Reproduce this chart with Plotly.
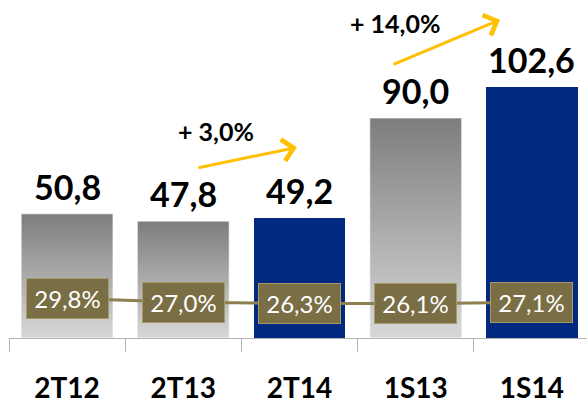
import plotly.graph_objects as go

categories = ["2T12", "2T13", "2T14", "1S13", "1S14"]
values = [50.8, 47.8, 49.2, 90.0, 102.6]
margins = [29.8, 27.0, 26.3, 26.1, 27.1]
growth_labels = ["+ 3,0%", "+ 14,0%"]

BLUE = "#00297f"
GRAY = "#a6a6a6"
OLIVE_LINE = "#8c8050"
BOX_BG = "#7a6e44"
BOX_BORDER = "#a59a68"
FONT = "Lato"
BAR_W = 0.79

def fmt(v, suffix=""):
    return f"{v:.1f}".replace(".", ",") + suffix

x = list(range(len(categories)))
highlight = [c.endswith("14") for c in categories]

fig = go.Figure()

fig.add_trace(go.Bar(
    x=x, y=values, width=BAR_W,
    marker=dict(color=[BLUE if h else GRAY for h in highlight], line=dict(width=0)),
    showlegend=False, hoverinfo="skip",
))

# gradient overlay for the gray (prior period) bars
for i, (v, h) in enumerate(zip(values, highlight)):
    if h:
        continue
    xl, xr = i - BAR_W / 2, i + BAR_W / 2
    fig.add_trace(go.Scatter(
        x=[xl, xr, xr, xl, xl], y=[0, 0, v, v, 0],
        mode="lines", fill="toself",
        line=dict(color="rgba(255,255,255,0.7)", width=1),
        fillgradient=dict(type="vertical",
                          colorscale=[[0, "#d8d8d8"], [1, "#7d7d7d"]]),
        showlegend=False, hoverinfo="skip",
    ))

fig.add_trace(go.Scatter(
    x=x, y=margins, yaxis="y2", mode="lines",
    line=dict(color=OLIVE_LINE, width=3),
    showlegend=False, hoverinfo="skip",
))

annotations = []
for i, v in enumerate(values):
    annotations.append(dict(
        x=i, y=v, xref="x", yref="y", text=fmt(v), showarrow=False,
        yanchor="bottom", yshift=5,
        font=dict(family=FONT, size=34, color="black", weight="bold"),
    ))
for i, m in enumerate(margins):
    annotations.append(dict(
        x=i, y=m, xref="x", yref="y2", text=fmt(m, "%"), showarrow=False,
        font=dict(family=FONT, size=24, color="white"),
        bgcolor=BOX_BG, bordercolor=BOX_BORDER, borderwidth=1, borderpad=0,
        width=81, height=39,
    ))

# growth arrows
arrows = [
    dict(tail=(1.118, 69.5), tip=(1.978, 78.0), text=(1.281, 84.8)),
    dict(tail=(2.796, 111.7), tip=(3.725, 130.2), text=(2.822, 129.0)),
]
for a, lab in zip(arrows, growth_labels):
    annotations.append(dict(
        x=a["tip"][0], y=a["tip"][1], ax=a["tail"][0], ay=a["tail"][1],
        xref="x", yref="y", axref="x", ayref="y", text="",
        showarrow=True, arrowhead=4, arrowsize=1.4, arrowwidth=3,
        arrowcolor="#ffc000", standoff=0,
    ))
    annotations.append(dict(
        x=a["text"][0], y=a["text"][1], xref="x", yref="y", text=lab,
        showarrow=False,
        font=dict(family=FONT, size=25, color="black", weight="bold"),
    ))

fig.update_layout(
    width=587, height=404,
    margin=dict(l=9, r=0, t=0, b=60),
    paper_bgcolor="white", plot_bgcolor="white",
    bargap=0, barmode="overlay",
    xaxis=dict(
        range=[-0.5, -0.5 + 578 / 116.2],
        tickmode="array", tickvals=x, ticktext=categories,
        ticks="", showgrid=False, zeroline=False,
        showline=True, linecolor="#b4b4b4", linewidth=1,
        tickfont=dict(family=FONT, size=28, color="black", weight="bold"),
        ticklabelstandoff=25,
        minor=dict(tickmode="array",
                   tickvals=[i - 0.5 for i in range(len(categories) + 1)],
                   ticks="outside", ticklen=13, tickcolor="#b4b4b4",
                   tickwidth=1, showgrid=False),
    ),
    yaxis=dict(range=[0, 344 / 2.488], visible=False, showgrid=False),
    yaxis2=dict(range=[2.8, 232.1], overlaying="y", visible=False,
                showgrid=False),
    annotations=annotations,
    showlegend=False,
)

fig.write_html(
    "out.html",
    config={"displayModeBar": False},
    post_script="document.body.style.margin='0';document.body.style.overflow='hidden';",
)
